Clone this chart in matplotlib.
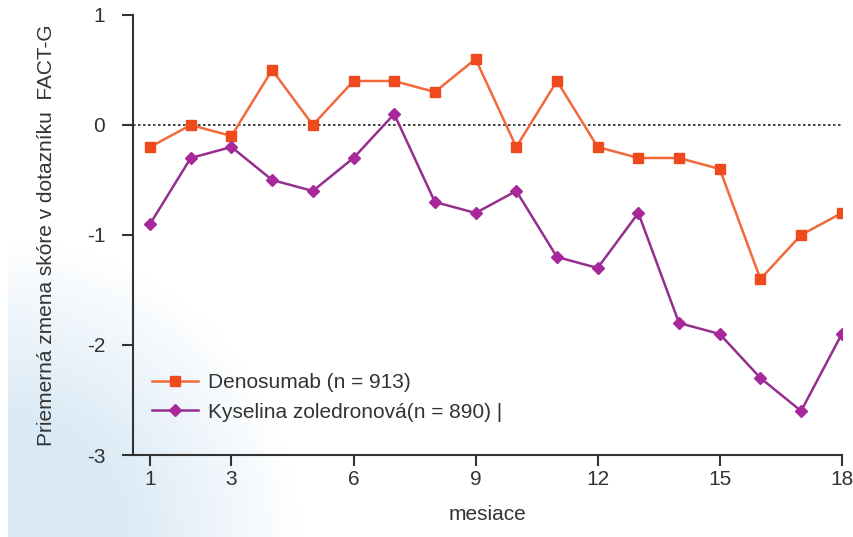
#!/usr/bin/env python3
"""
FACT-G score change chart (denosumab vs zoledronic acid)
"""

import matplotlib.pyplot as plt
import numpy as np

plt.rcParams["font.family"] = ["Liberation Sans", "DejaVu Sans"]
plt.rcParams["font.size"] = 15
plt.rcParams["axes.unicode_minus"] = False

# Data
months = list(range(1, 19))
denosumab = [-0.2, 0.0, -0.1, 0.5, 0.0, 0.4, 0.4, 0.3, 0.6,
             -0.2, 0.4, -0.2, -0.3, -0.3, -0.4, -1.4, -1.0, -0.8]
zoledronic = [-0.9, -0.3, -0.2, -0.5, -0.6, -0.3, 0.1, -0.7, -0.8,
              -0.6, -1.2, -1.3, -0.8, -1.8, -1.9, -2.3, -2.6, -1.9]
xticks = [1, 3, 6, 9, 12, 15, 18]
yticks = [1, 0, -1, -2, -3]

label_deno = "Denosumab (n = 913)"
label_zol = "Kyselina zoledronová(n = 890) |"
xlabel = "mesiace"
ylabel = "Priemerná zmena skóre v dotazníku  FACT-G"

fig = plt.figure(figsize=(8.54, 5.37), dpi=100)

# Light blue decorative wash in the lower-left corner
bg = fig.add_axes([0, 0, 1, 1], zorder=-10)
h, w = 537, 854
yy, xx = np.mgrid[0:h, 0:w]
d = np.sqrt((xx / 300.0) ** 2 + ((h - yy) / 300.0) ** 2)
alpha = np.clip(1.0 - d, 0, 0.6)
alpha[:, :8] = 0
img = np.zeros((h, w, 4))
img[..., 0] = 0.76
img[..., 1] = 0.86
img[..., 2] = 0.94
img[..., 3] = alpha
bg.imshow(img, extent=(0, 1, 0, 1), aspect="auto", interpolation="bilinear")
bg.axis("off")

ax = fig.add_axes([0.1557, 0.1527, 0.830, 0.8194])
ax.patch.set_alpha(0)

ax.axhline(0, color="#222222", linestyle=(0, (1.5, 1.5)), linewidth=1.2, zorder=1)

ax.plot(months, denosumab, color="#F26A3A", linewidth=1.8, marker="s",
        markersize=6.5, markerfacecolor="#EE4A1E", markeredgecolor="#EE4A1E",
        label=label_deno, zorder=3)
ax.plot(months, zoledronic, color="#952F8E", linewidth=1.8, marker="D",
        markersize=6, markerfacecolor="#A8289C", markeredgecolor="#A8289C",
        label=label_zol, zorder=3)

ax.set_xlim(0.58, 18)
ax.set_ylim(-3, 1)
ax.set_xticks(xticks)
ax.set_yticks(yticks)

for side in ["top", "right"]:
    ax.spines[side].set_visible(False)
for side in ["left", "bottom"]:
    ax.spines[side].set_color("#333333")
    ax.spines[side].set_linewidth(1.5)

ax.tick_params(axis="both", colors="#333333", length=8, width=1.5,
               labelsize=15, labelcolor="#333333")
ax.tick_params(axis="y", pad=12)
ax.tick_params(axis="x", pad=3)

ax.set_xlabel(xlabel, fontsize=15, color="#333333", labelpad=11)
ax.set_ylabel(ylabel, fontsize=15, color="#333333", labelpad=22)

ax.legend(loc="upper left", bbox_to_anchor=(0.027, 0.186), frameon=False,
          borderpad=0, borderaxespad=0, handlelength=2.2, handletextpad=0.5,
          labelspacing=0.5, fontsize=15, labelcolor="#333333")

fig.savefig("out.png", dpi=100)
